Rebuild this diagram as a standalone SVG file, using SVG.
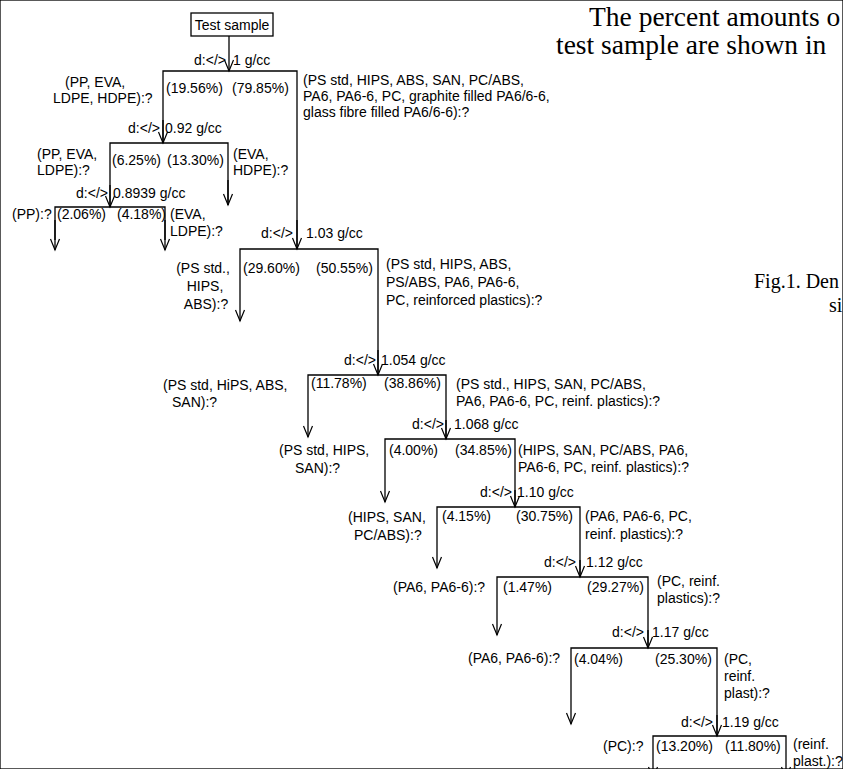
<svg xmlns="http://www.w3.org/2000/svg" width="843" height="769" viewBox="0 0 843 769">
<defs>
<marker id="arr" markerUnits="userSpaceOnUse" markerWidth="12" markerHeight="10" orient="auto" overflow="visible">
<path d="M-11,-4.5 L0,0 L-11,4.5" fill="none" stroke="#000" stroke-width="1.2"/>
</marker>
<style>
text{font-family:"Liberation Sans",Arial,sans-serif;font-size:14px;fill:#000}
text.s{font-family:"Liberation Serif","Times New Roman",serif;fill:#000}
text.big{font-size:27.5px}
text.mid{font-size:20px}
.m{text-anchor:middle}
.e{text-anchor:end}
line,rect,polyline{stroke:#000;stroke-width:1.3;fill:none}
.a{marker-end:url(#arr)}
</style>
</defs>
<rect width="843" height="769" fill="#fff" stroke="none"/>
<g id="connectors">
<line class="a" x1="229" y1="36" x2="229" y2="71"/>
<polyline points="163,143 163,71 297,71 297,249"/>
<line class="a" x1="163" y1="120" x2="163" y2="143"/>
<line class="a" x1="297" y1="220" x2="297" y2="249"/>
<polyline points="110,207 110,143 228,143 228,205"/>
<line class="a" x1="228" y1="180" x2="228" y2="205"/>
<line class="a" x1="110" y1="185" x2="110" y2="207"/>
<polyline points="55,240 55,207 165,207 165,240"/>
<line class="a" x1="55" y1="220" x2="55" y2="250"/>
<line class="a" x1="165" y1="220" x2="165" y2="250"/>
<polyline points="240,300 240,249 378,249 378,375"/>
<line class="a" x1="240" y1="300" x2="240" y2="321"/>
<line class="a" x1="378" y1="350" x2="378" y2="375"/>
<polyline points="308,420 308,375 446,375 446,439"/>
<line class="a" x1="308" y1="420" x2="308" y2="437"/>
<line class="a" x1="446" y1="420" x2="446" y2="439"/>
<polyline points="385,480 385,439 515,439 515,507"/>
<line class="a" x1="385" y1="480" x2="385" y2="502"/>
<line class="a" x1="515" y1="490" x2="515" y2="507"/>
<polyline points="437,550 437,507 580,507 580,577"/>
<line class="a" x1="437" y1="550" x2="437" y2="568"/>
<line class="a" x1="580" y1="560" x2="580" y2="577"/>
<polyline points="497,610 497,577 648,577 648,648"/>
<line class="a" x1="497" y1="610" x2="497" y2="635"/>
<line class="a" x1="648" y1="630" x2="648" y2="648"/>
<polyline points="571,700 571,648 717,648 717,736"/>
<line class="a" x1="571" y1="700" x2="571" y2="724"/>
<line class="a" x1="717" y1="715" x2="717" y2="736"/>
<polyline points="653,760 653,736 786,736 786,760"/>
<line class="a" x1="653" y1="760" x2="653" y2="778"/>
<line class="a" x1="786" y1="760" x2="786" y2="778"/>
</g>
<g id="root">
<rect x="191" y="13" width="82" height="23"/>
<text x="232" y="30" class="m">Test sample</text>
</g>
<g id="split1">
<text x="226" y="65" class="e">d:&lt;/&gt;</text><text x="233" y="65">1 g/cc</text>
<text x="166" y="93">(19.56%)</text><text x="232" y="93">(79.85%)</text>
</g>
<g id="n-pp-eva-ldpe-hdpe">
<text x="65" y="87">(PP, EVA,</text><text x="53" y="103">LDPE, HDPE):?</text>
</g>
<g id="n-ps-std-1">
<text x="303" y="85">(PS std, HIPS, ABS, SAN, PC/ABS,</text>
<text x="303" y="101">PA6, PA6-6, PC, graphite filled PA6/6-6,</text>
<text x="303" y="117">glass fibre filled PA6/6-6):?</text>
</g>
<g id="split2">
<text x="160" y="133" class="e">d:&lt;/&gt;</text><text x="165" y="133">0.92 g/cc</text>
<text x="112" y="165">(6.25%)</text><text x="167" y="165">(13.30%)</text>
</g>
<g id="n-pp-eva-ldpe">
<text x="37" y="159">(PP, EVA,</text><text x="37" y="175">LDPE):?</text>
</g>
<g id="n-eva-hdpe">
<text x="233" y="159">(EVA,</text><text x="233" y="175">HDPE):?</text>
</g>
<g id="split3">
<text x="108" y="198" class="e">d:&lt;/&gt;</text><text x="113" y="198">0.8939 g/cc</text>
<text x="57" y="219">(2.06%)</text><text x="117" y="219">(4.18%)</text>
</g>
<g id="n-pp"><text x="12" y="219">(PP):?</text></g>
<g id="n-eva-ldpe"><text x="170" y="219">(EVA,</text><text x="170" y="236">LDPE):?</text></g>
<g id="split4">
<text x="293" y="238" class="e">d:&lt;/&gt;</text><text x="306" y="238">1.03 g/cc</text>
<text x="243" y="273">(29.60%)</text><text x="316" y="273">(50.55%)</text>
</g>
<g id="n-ps-hips-abs">
<text x="203" y="273" class="m">(PS std.,</text><text x="205" y="291" class="m">HIPS,</text><text x="206" y="309" class="m">ABS):?</text>
</g>
<g id="n-ps-std-2">
<text x="386" y="269">(PS std, HIPS, ABS,</text><text x="386" y="287">PS/ABS, PA6, PA6-6,</text><text x="386" y="305">PC, reinforced plastics):?</text>
</g>
<g id="split5">
<text x="376" y="365" class="e">d:&lt;/&gt;</text><text x="381" y="365">1.054 g/cc</text>
<text x="311" y="388">(11.78%)</text><text x="384" y="388">(38.86%)</text>
</g>
<g id="n-ps-hips-abs-san"><text x="163" y="390">(PS std, HiPS, ABS,</text><text x="172" y="407">SAN):?</text></g>
<g id="n-ps-std-3"><text x="456" y="389">(PS std., HIPS, SAN, PC/ABS,</text><text x="456" y="406">PA6, PA6-6, PC, reinf. plastics):?</text></g>
<g id="split6">
<text x="444" y="429" class="e">d:&lt;/&gt;</text><text x="454" y="429">1.068 g/cc</text>
<text x="389" y="455">(4.00%)</text><text x="455" y="455">(34.85%)</text>
</g>
<g id="n-ps-hips-san"><text x="279" y="455">(PS std, HIPS,</text><text x="295" y="473">SAN):?</text></g>
<g id="n-hips-san-pcabs-pa6"><text x="518" y="455">(HIPS, SAN, PC/ABS, PA6,</text><text x="518" y="472">PA6-6, PC, reinf. plastics):?</text></g>
<g id="split7">
<text x="512" y="497" class="e">d:&lt;/&gt;</text><text x="517" y="497">1.10 g/cc</text>
<text x="442" y="521">(4.15%)</text><text x="516" y="521">(30.75%)</text>
</g>
<g id="n-hips-san-pcabs"><text x="348" y="522">(HIPS, SAN,</text><text x="354" y="540">PC/ABS):?</text></g>
<g id="n-pa6-pa66-pc"><text x="585" y="521">(PA6, PA6-6, PC,</text><text x="585" y="539">reinf. plastics):?</text></g>
<g id="split8">
<text x="576" y="567" class="e">d:&lt;/&gt;</text><text x="586" y="567">1.12 g/cc</text>
<text x="503" y="592">(1.47%)</text><text x="587" y="592">(29.27%)</text>
</g>
<g id="n-pa6-pa66-1"><text x="393" y="592">(PA6, PA6-6):?</text></g>
<g id="n-pc-reinf"><text x="657" y="586">(PC, reinf.</text><text x="657" y="603">plastics):?</text></g>
<g id="split9">
<text x="644" y="637" class="e">d:&lt;/&gt;</text><text x="652" y="637">1.17 g/cc</text>
<text x="574" y="664">(4.04%)</text><text x="655" y="664">(25.30%)</text>
</g>
<g id="n-pa6-pa66-2"><text x="468" y="663">(PA6, PA6-6):?</text></g>
<g id="n-pc-reinf-plast"><text x="724" y="664">(PC,</text><text x="724" y="681">reinf.</text><text x="724" y="698">plast):?</text></g>
<g id="split10">
<text x="713" y="727" class="e">d:&lt;/&gt;</text><text x="722" y="727">1.19 g/cc</text>
<text x="656" y="751">(13.20%)</text><text x="725" y="751">(11.80%)</text>
</g>
<g id="n-pc"><text x="603" y="751">(PC):?</text></g>
<g id="n-reinf-plast"><text x="793" y="749">(reinf.</text><text x="793" y="766">plast.):?</text></g>
<g id="caption">
<text class="s big" x="589" y="26">The percent amounts o</text>
<text class="s big" x="556" y="54">test sample are shown in</text>
<text class="s mid" x="754" y="288">Fig.1. Den</text>
<text class="s mid" x="829" y="312">si</text>
</g>
</svg>
